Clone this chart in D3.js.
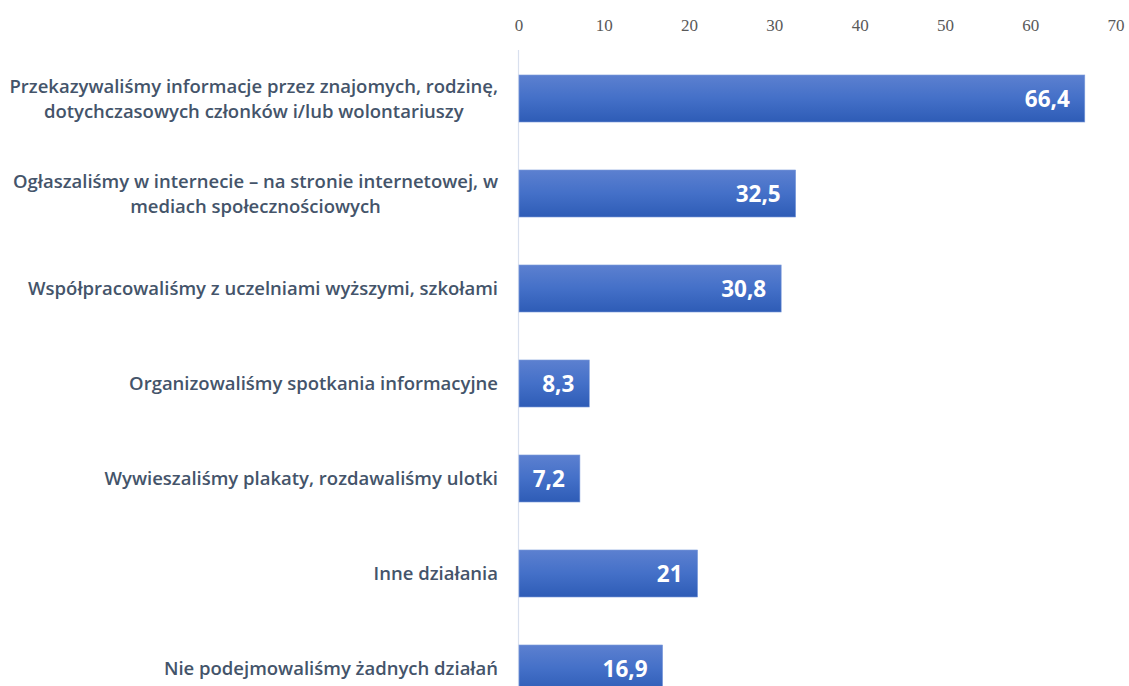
<!DOCTYPE html>
<html><head><meta charset="utf-8">
<script src="https://cdn.jsdelivr.net/npm/d3@7"></script>
<style>html,body{margin:0;padding:0;background:#fff;overflow:hidden}</style>
</head><body>
<svg id="c" width="1129" height="686"></svg>
<script>
const categories = [
  ["Przekazywaliśmy informacje przez znajomych, rodzinę,", "dotychczasowych członków i/lub wolontariuszy"],
  ["Ogłaszaliśmy w internecie – na stronie internetowej, w", "mediach społecznościowych"],
  ["Współpracowaliśmy z uczelniami wyższymi, szkołami"],
  ["Organizowaliśmy spotkania informacyjne"],
  ["Wywieszaliśmy plakaty, rozdawaliśmy ulotki"],
  ["Inne działania"],
  ["Nie podejmowaliśmy żadnych działań"]
];
const values = [66.4, 32.5, 30.8, 8.3, 7.2, 21, 16.9];
const valueLabels = ["66,4", "32,5", "30,8", "8,3", "7,2", "21", "16,9"];
const ticks = [0, 10, 20, 30, 40, 50, 60, 70];

const svg = d3.select("#c");
const x = d3.scaleLinear().domain([0, 70]).range([518.5, 1115.5]);
const y = d3.scaleBand().domain(d3.range(categories.length)).range([51, 716]).paddingInner(0.505).paddingOuter(0.2525);

const defs = svg.append("defs");
const g = defs.append("linearGradient").attr("id","bg").attr("x1",0).attr("y1",0).attr("x2",0).attr("y2",1);
g.append("stop").attr("offset","0%").attr("stop-color","#5c80d0");
g.append("stop").attr("offset","50%").attr("stop-color","#4470c8");
g.append("stop").attr("offset","100%").attr("stop-color","#2e5cb6");

// axis
const ax = d3.axisTop(x).tickValues(ticks).tickSize(0).tickFormat(d3.format("d"));
const axg = svg.append("g").attr("transform","translate(0,34)").call(ax);
axg.select(".domain").remove();
axg.selectAll("text").attr("font-family","'Liberation Serif', 'DejaVu Serif', serif")
  .attr("font-size", 17).attr("fill","#595959").attr("dy", 0);

// vertical axis line
svg.append("line").attr("x1", x(0)).attr("x2", x(0)).attr("y1", 50).attr("y2", 686)
  .attr("stroke","#d9e0ee").attr("stroke-width",1.2);

// bars
svg.selectAll("rect.bar").data(values).join("rect").attr("class","bar")
  .attr("x", x(0)+0.5).attr("y", (d,i)=>y(i)).attr("width", d=>x(d)-x(0)-0.5)
  .attr("height", y.bandwidth()).attr("fill","url(#bg)")
  .attr("stroke","#7f9ddc").attr("stroke-width",0.6);

// value labels
svg.selectAll("text.val").data(values).join("text").attr("class","val")
  .attr("x", d=>x(d)-15).attr("y",(d,i)=>y(i)+y.bandwidth()/2+8.5)
  .attr("text-anchor","end").attr("font-family","'Open Sans', sans-serif").attr("font-weight",700)
  .attr("font-size",22.5).attr("fill","#fff").text((d,i)=>valueLabels[i]);

// category labels: fit font size
const labelFont = "'Open Sans', 'Noto Sans', sans-serif";
const probe = svg.append("text").attr("font-family",labelFont).attr("font-weight",600).attr("font-size",100)
  .text("Współpracowaliśmy z uczelniami wyższymi, szkołami");
const fs = 100 * 470 / probe.node().getComputedTextLength();
probe.remove();
const right = 498, lh = 25;
categories.forEach((lines,i)=>{
  const t = svg.append("text").attr("font-family",labelFont).attr("font-weight",600).attr("font-size",fs).attr("fill","#44546a");
  const widths = lines.map(l=>{ const p = t.append("tspan").text(l); const w = p.node().getComputedTextLength(); p.remove(); return w;});
  const bw = d3.max(widths);
  const cx = right - bw/2;
  const cy = y(i)+y.bandwidth()/2;
  lines.forEach((l,k)=>{
    t.append("tspan").attr("x", cx).attr("text-anchor","middle")
      .attr("y", cy + (k - (lines.length-1)/2)*lh + fs*0.36).text(l);
  });
});
</script>
</body></html>
